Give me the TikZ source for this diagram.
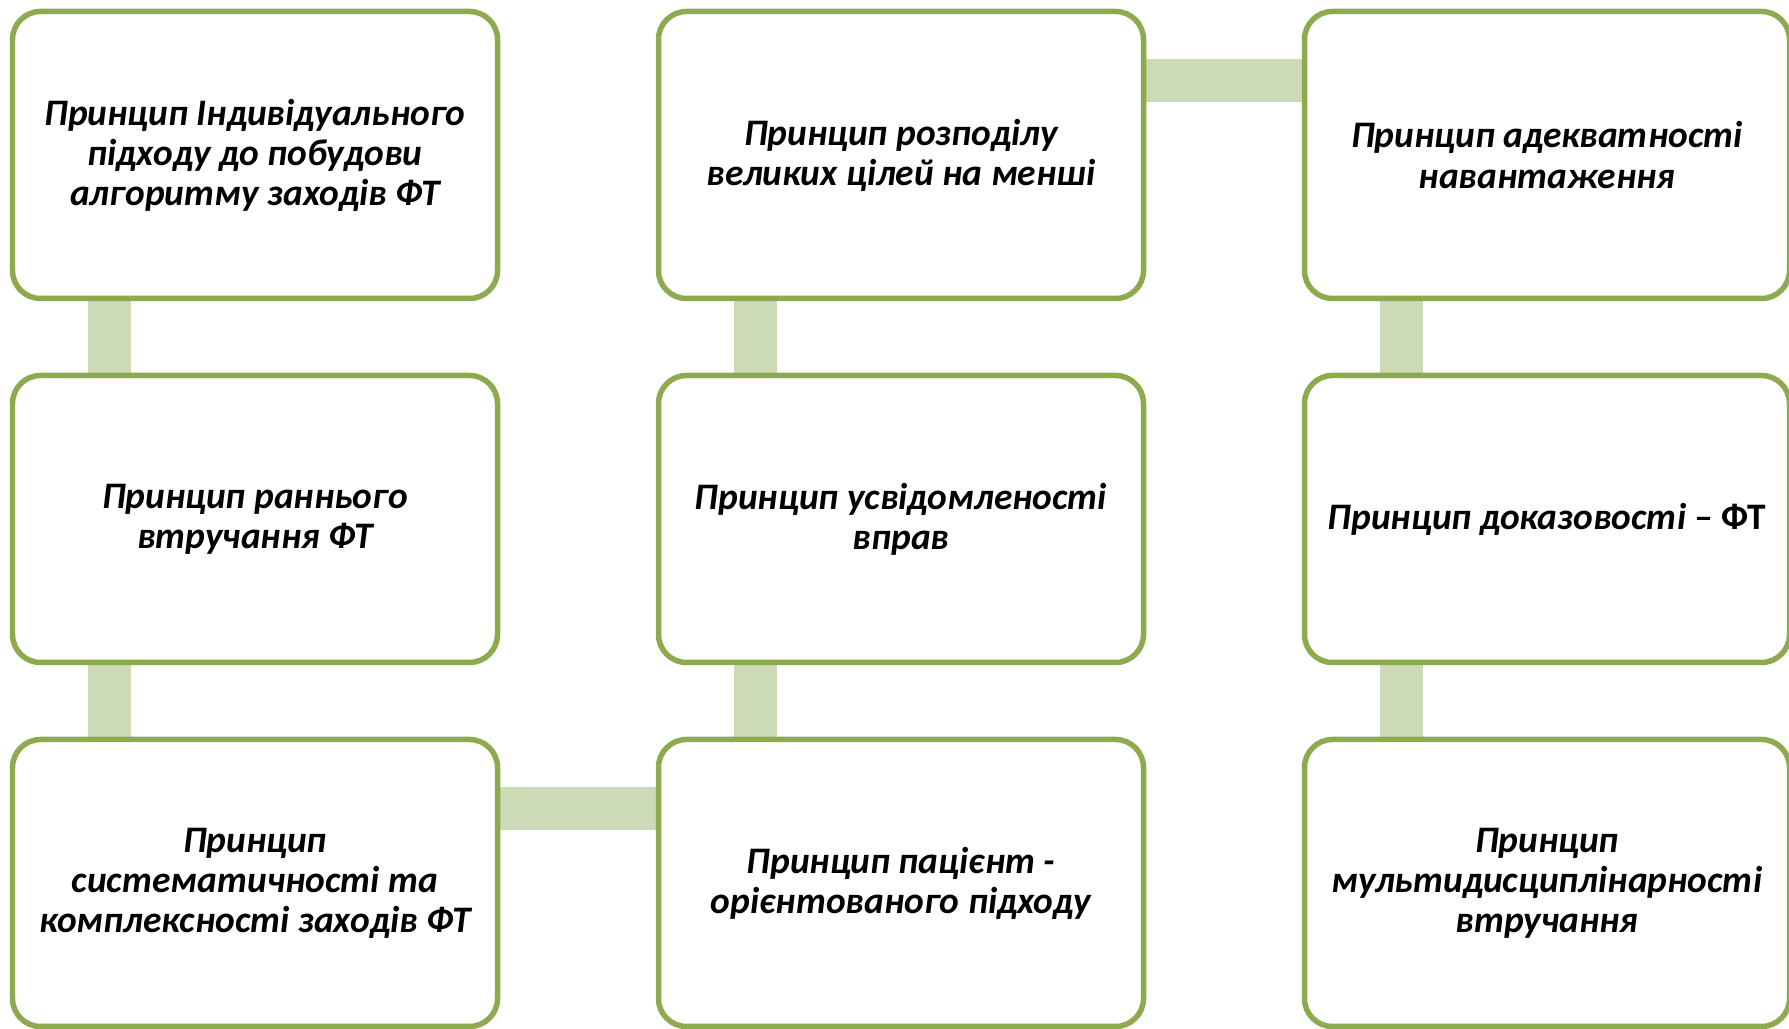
\documentclass[tikz,border=0pt]{standalone}
\usepackage{fontspec}
\setmainfont{Carlito}
\usetikzlibrary{positioning,backgrounds}
\definecolor{boxgreen}{HTML}{8DAA4E}
\definecolor{linkgreen}{HTML}{CDDAB7}

\begin{document}
\begin{tikzpicture}[node distance=3.64cm and 6.46cm,on grid,
   principle/.style={draw=boxgreen,line width=0.055cm,rounded corners=0.28cm,fill=white,
      minimum width=4.85cm,minimum height=2.87cm,align=center,inner sep=0pt,
      font=\fontsize{10.65}{11.4}\selectfont\bfseries\itshape},
   link/.style={linkgreen,line width=0.43cm}]
   \useasboundingbox (0,0) rectangle (17.89,-10.29);
   \node[principle] (ind) at (2.55,-1.55) {Принцип Індивідуального\\ підходу до побудови\\ алгоритму заходів ФТ};
   \node[principle] (early) [below=of ind] {Принцип раннього\\ втручання ФТ};
   \node[principle] (sys) [below=of early] {Принцип\\ систематичності та\\ комплексності заходів ФТ};
   \node[principle] (pat) [right=of sys] {Принцип пацієнт -\\ орієнтованого підходу};
   \node[principle] (aware) [above=of pat] {Принцип усвідомленості\\ вправ};
   \node[principle] (goals) [above=of aware] {Принцип розподілу\\ великих цілей на менші};
   \node[principle] (adeq) [right=of goals] {Принцип адекватності\\ навантаження};
   \node[principle] (evid) [below=of adeq] {Принцип доказовості – {\upshape ФТ}};
   \node[principle] (multi) [below=of evid] {Принцип\\ мультидисциплінарності\\ втручання};
   \begin{scope}[on background layer]
    \draw[link] ([xshift=1cm]ind.south west) -- ([xshift=1cm]early.north west);
    \draw[link] ([xshift=1cm]early.south west) -- ([xshift=1cm]sys.north west);
    \draw[link] ([yshift=-0.72cm]sys.north east) -- ([yshift=-0.72cm]pat.north west);
    \draw[link] ([xshift=1cm]pat.north west) -- ([xshift=1cm]aware.south west);
    \draw[link] ([xshift=1cm]aware.north west) -- ([xshift=1cm]goals.south west);
    \draw[link] ([yshift=-0.72cm]goals.north east) -- ([yshift=-0.72cm]adeq.north west);
    \draw[link] ([xshift=1cm]adeq.south west) -- ([xshift=1cm]evid.north west);
    \draw[link] ([xshift=1cm]evid.south west) -- ([xshift=1cm]multi.north west);
   \end{scope}
\end{tikzpicture}
\end{document}
